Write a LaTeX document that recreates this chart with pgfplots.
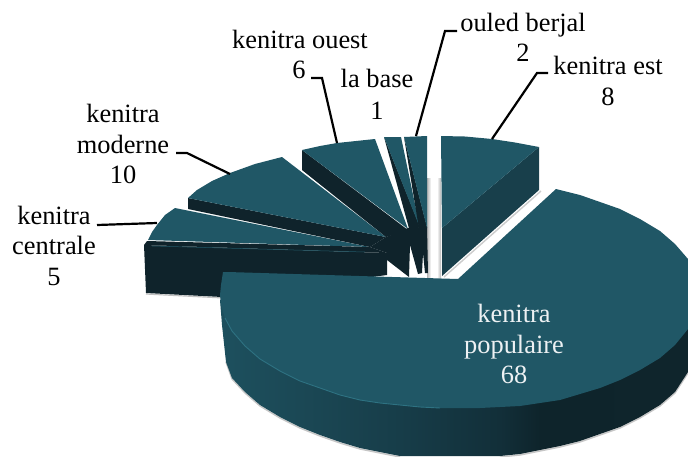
\documentclass[border=0pt]{standalone}
\usepackage{fontspec}
\setmainfont{Liberation Serif}
\usepackage{pgfplots}
\pgfplotsset{compat=1.18}
\definecolor{tealtop}{HTML}{205766}
\definecolor{tealside}{HTML}{183F4B}
\definecolor{tealdark}{HTML}{0F232B}
\definecolor{rim}{HTML}{2E7282}
\definecolor{psa}{HTML}{1D505E}
\definecolor{psb}{HTML}{1B4855}
\definecolor{psc}{HTML}{173D49}
\definecolor{psd}{HTML}{122F39}
\definecolor{pse}{HTML}{0E242B}
\definecolor{psf}{HTML}{0F252C}
\definecolor{fg}{HTML}{B4B4B4}
\definecolor{fw}{HTML}{FFFFFF}
\pgfdeclarehorizontalshading{popside}{100bp}{
 color(0bp)=(psa);
 color(25bp)=(psa);
 color(33.5bp)=(psb);
 color(44.2bp)=(psc);
 color(54.9bp)=(psd);
 color(59.2bp)=(pse);
 color(75bp)=(psf);
 color(100bp)=(psf)}
\pgfdeclarehorizontalshading{fadeR}{100bp}{
 color(0bp)=(fg);
 color(25bp)=(fg);
 color(75bp)=(fw);
 color(100bp)=(fw)}
\pgfdeclarehorizontalshading{fadeL}{100bp}{
 color(0bp)=(fw);
 color(25bp)=(fw);
 color(75bp)=(fg);
 color(100bp)=(fg)}
\newcommand{\lab}[4][black]{\node[anchor=base,inner sep=0pt,text=#1,font=\fontsize{26.4}{30}\selectfont] at (axis cs:#2,#3) {#4};}
\begin{document}
\begin{tikzpicture}
\begin{axis}[
  scale only axis, width=688pt, height=456pt,
  xmin=0, xmax=688, ymin=0, ymax=456, y dir=reverse,
  axis lines=none, clip=true]
% page
\addplot[draw=none,fill=white] coordinates {(0,0)(688,0)(688,456)(0,456)} --cycle;
% shadows of the gap
\addplot[draw=none,shading=fadeR] coordinates {(427,178)(431,178)(431,277)(427,277)} --cycle;
\addplot[draw=none,shading=fadeL] coordinates {(437,178)(441,178)(441,277)(437,277)} --cycle;
% kenitra est
\addplot[gray!40,line width=1.4pt] coordinates {(541,191)(444,277)};
\addplot[draw=none,fill=tealside] coordinates {(539,147)(539,190)(442,276)(442,228)} --cycle;
\addplot[draw=none,fill=tealtop] coordinates {(441,136)(465,136.5)(492,139)(515,142.5)(539,147)(442,228)} --cycle;
% kenitra centrale
\addplot[draw=none,fill=tealtop] coordinates {(148,240)(152,232)(157,225)(165,215)(175,208)(370,247)} --cycle;
\addplot[draw=none,fill=tealdark] coordinates {(147,241)(370,247)(387,253)(144,245)} --cycle;
\addplot[gray!50,line width=1.2pt] coordinates {(146,294)(224,298)};
\addplot[draw=none,fill=tealdark] coordinates {(144,245)(387,253)(387,275)(222,297)(146,293)} --cycle;
\addplot[tealtop,line width=0.5pt] coordinates {(152,246)(365,252)};
% kenitra moderne
\addplot[draw=none,fill=tealdark] coordinates {(188,198)(386,237)(370,247)(188,209)} --cycle;
\addplot[draw=none,fill=tealtop] coordinates {(188,198)(197,190)(212,181)(230,173)(255,164)(282,157)(386,237)} --cycle;
% kenitra ouest and centre mass
\addplot[draw=none,fill=tealdark] coordinates {(302,150)(408,230)(386,237)(302,170)} --cycle;
\addplot[draw=none,fill=tealtop] coordinates {(302,150)(320,146)(337,143)(356,141)(375,139)(408,229)} --cycle;
\addplot[draw=none,fill=tealdark] coordinates {(370,247)(386,237)(408,228)(427,227)(428,273)(425,273)(423,253)(422,273)(418,274)(410,245)(409,277)(387,260)(387,253)} --cycle;
% la base
\addplot[draw=none,fill=tealdark] coordinates {(384,137)(420,227)(410,232)} --cycle;
\addplot[draw=none,fill=tealtop] coordinates {(384,137)(401,137)(420,228)} --cycle;
% ouled berjal
\addplot[draw=none,fill=tealdark] coordinates {(404,137)(427,227)(420,235)} --cycle;
\addplot[draw=none,fill=tealtop] coordinates {(404,137)(427,136)(427,228)} --cycle;
% kenitra populaire: shadow, side, top, rim
\addplot[gray!45,line width=1.4pt] coordinates {(226,362)(232,379)(245,393)(260,406)(280,418)(300,428)(320,436)(340,443)(360,449)(380,453)(400,457)};
\addplot[gray!45,line width=1.4pt] coordinates {(500,457)(520,455)(540,451)(560,447)(580,442)(600,435)(620,428)(640,418)(660,406)(675,393)(688,373)};
\addplot[draw=none,shading=popside] coordinates {(220,300)(222,325)(226,362)(232,378)(245,392)(260,405)(280,417)(300,427)(320,435)(340,442)(360,448)(380,452)(400,456)(500,456)(520,454)(540,450)(560,446)(580,441)(600,434)(620,427)(640,417)(660,405)(675,392)(688,372)(688,300)} --cycle;
\addplot[draw=none,fill=tealtop] coordinates {(458,279)(556,189)(580,195)(600,202)(620,209)(640,219)(660,231)(675,244)(688,259)(688,329)(675,345)(660,358)(640,370)(620,380)(600,388)(580,394)(560,400)(540,403)(520,406)(500,407)(480,408)(460,408)(440,408)(420,407)(400,405)(380,403)(360,400)(340,395)(320,388)(300,381)(280,371)(260,359)(245,346)(232,331)(225,318)(221,305)(220,295)(221,285)(223,272)(228,272)} --cycle;
\addplot[rim,line width=0.9pt] coordinates {(225,318)(232,331)(245,346)(260,359)(280,371)(300,381)(320,388)(340,395)(360,400)(380,403)(400,405)(420,407)(440,408)};
% leader lines
\addplot[black,line width=2.2pt] coordinates {(457,31)(445,31)(416,136)};
\addplot[black,line width=2.2pt] coordinates {(548,73)(537,73)(492,139)};
\addplot[black,line width=2.2pt] coordinates {(311,78)(322,78)(337,143)};
\addplot[black,line width=2.2pt] coordinates {(176,153)(187,153)(230,174)};
\addplot[black,line width=2.2pt] coordinates {(97,225)(157,223)};
% labels
\lab{523}{31}{ouled berjal}
\lab{523}{61}{2}
\lab{608}{74}{kenitra est}
\lab{608}{105}{8}
\lab{300}{48}{kenitra ouest}
\lab{299}{78}{6}
\lab{377}{87}{la base}
\lab{377}{119}{1}
\lab{123}{122}{kenitra}
\lab{123}{153}{moderne}
\lab{123}{183}{10}
\lab{54}{224}{kenitra}
\lab{54}{254}{centrale}
\lab{54}{285}{5}
\lab[white!92!tealtop]{514}{322}{kenitra}
\lab[white!92!tealtop]{514}{353}{populaire}
\lab[white!92!tealtop]{514}{383}{68}
\end{axis}
\end{tikzpicture}
\end{document}
